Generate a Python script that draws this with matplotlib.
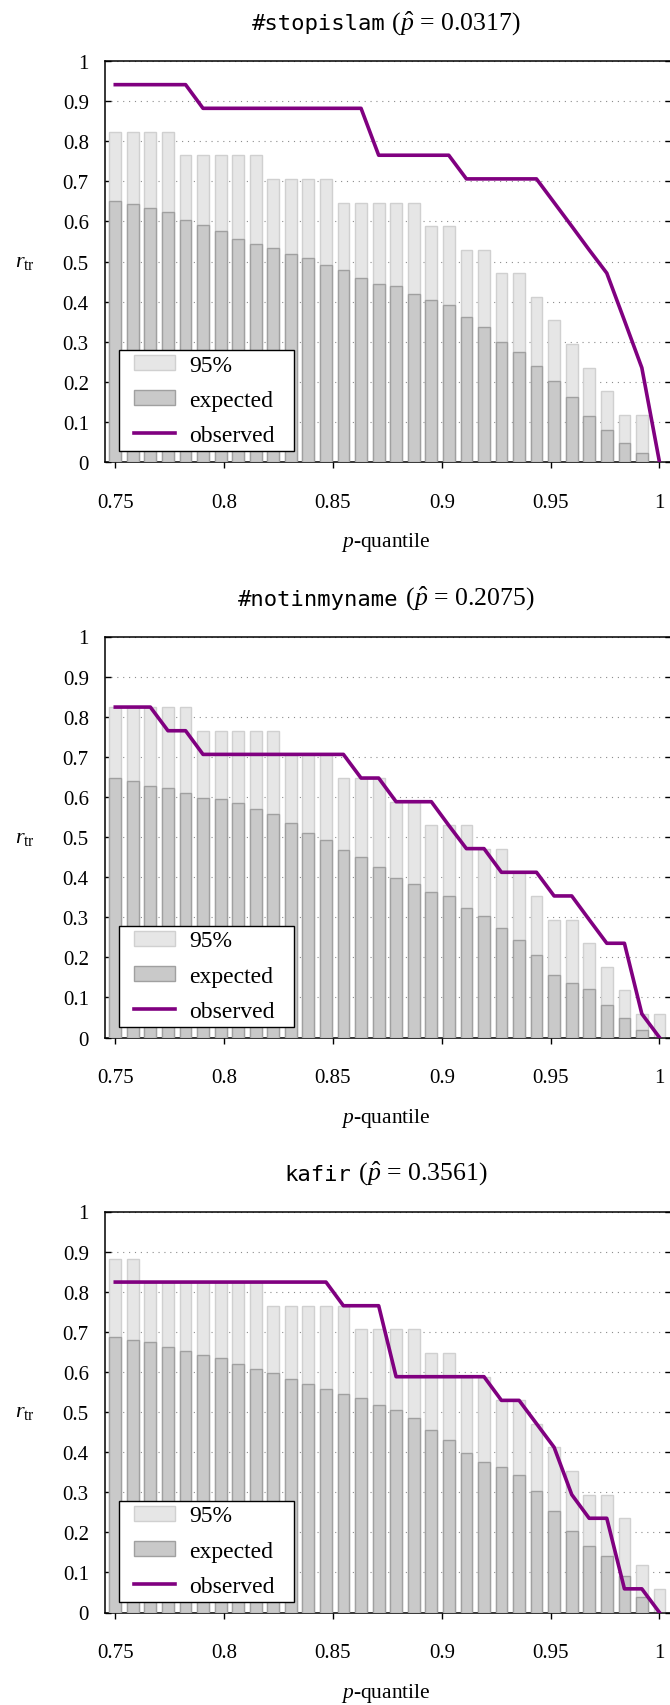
import matplotlib
matplotlib.use('Agg')
import matplotlib.pyplot as plt
from matplotlib import legend_handler
from matplotlib.container import BarContainer
from matplotlib.lines import Line2D

plt.rcParams['font.family'] = ['Liberation Serif', 'DejaVu Serif']
plt.rcParams['mathtext.fontset'] = 'custom'
plt.rcParams['mathtext.rm'] = 'Liberation Serif'
plt.rcParams['mathtext.it'] = 'Liberation Serif:italic'
plt.rcParams['mathtext.bf'] = 'Liberation Serif:bold'

# p-quantile of each bar
quantiles = [0.7500, 0.7581, 0.7661, 0.7742, 0.7823, 0.7903, 0.7984, 0.8065,
             0.8145, 0.8226, 0.8306, 0.8387, 0.8468, 0.8548, 0.8629, 0.8710,
             0.8790, 0.8871, 0.8952, 0.9032, 0.9113, 0.9194, 0.9274, 0.9355,
             0.9435, 0.9516, 0.9597, 0.9677, 0.9758, 0.9839, 0.9919, 1.0000]

xtick_values = [0.75, 0.8, 0.85, 0.9, 0.95, 1.0]
xtick_labels = ['0.75', '0.8', '0.85', '0.9', '0.95', '1']
ytick_values = [0, 0.1, 0.2, 0.3, 0.4, 0.5, 0.6, 0.7, 0.8, 0.9, 1.0]
ytick_labels = ['0', '0.1', '0.2', '0.3', '0.4', '0.5', '0.6', '0.7', '0.8', '0.9', '1']

tags = ['#stopislam', '#notinmyname', 'kafir']
p_hats = ['0.0317', '0.2075', '0.3561']

stopislam_upper = [0.824, 0.824, 0.824, 0.824, 0.765, 0.765, 0.765, 0.765,
                   0.765, 0.706, 0.706, 0.706, 0.706, 0.647, 0.647, 0.647,
                   0.647, 0.647, 0.588, 0.588, 0.529, 0.529, 0.471, 0.471,
                   0.412, 0.353, 0.294, 0.235, 0.176, 0.118, 0.118, 0.0]
stopislam_expected = [0.651, 0.643, 0.633, 0.623, 0.603, 0.591, 0.576, 0.555,
                      0.543, 0.533, 0.519, 0.508, 0.491, 0.478, 0.460, 0.444,
                      0.438, 0.420, 0.404, 0.391, 0.361, 0.336, 0.300, 0.274,
                      0.239, 0.201, 0.162, 0.115, 0.081, 0.048, 0.022, 0.0]
stopislam_observed = [0.941, 0.941, 0.941, 0.941, 0.941, 0.882, 0.882, 0.882,
                      0.882, 0.882, 0.882, 0.882, 0.882, 0.882, 0.882, 0.765,
                      0.765, 0.765, 0.765, 0.765, 0.706, 0.706, 0.706, 0.706,
                      0.706, 0.647, 0.588, 0.529, 0.471, 0.353, 0.235, 0.0]

notinmyname_upper = [0.824, 0.824, 0.824, 0.824, 0.824, 0.765, 0.765, 0.765,
                     0.765, 0.765, 0.706, 0.706, 0.706, 0.647, 0.647, 0.647,
                     0.588, 0.588, 0.529, 0.529, 0.529, 0.471, 0.471, 0.412,
                     0.353, 0.294, 0.294, 0.235, 0.176, 0.118, 0.059, 0.059]
notinmyname_expected = [0.647, 0.640, 0.628, 0.622, 0.609, 0.598, 0.594, 0.586,
                        0.571, 0.557, 0.536, 0.511, 0.492, 0.467, 0.451, 0.424,
                        0.398, 0.383, 0.363, 0.353, 0.324, 0.302, 0.274, 0.242,
                        0.205, 0.155, 0.137, 0.120, 0.081, 0.049, 0.018, 0.0]
notinmyname_observed = [0.824, 0.824, 0.824, 0.765, 0.765, 0.706, 0.706, 0.706,
                        0.706, 0.706, 0.706, 0.706, 0.706, 0.706, 0.647, 0.647,
                        0.588, 0.588, 0.588, 0.529, 0.471, 0.471, 0.412, 0.412,
                        0.412, 0.353, 0.353, 0.294, 0.235, 0.235, 0.059, 0.0]

kafir_upper = [0.882, 0.882, 0.824, 0.824, 0.824, 0.824, 0.824, 0.824,
               0.824, 0.765, 0.765, 0.765, 0.765, 0.765, 0.706, 0.706,
               0.706, 0.706, 0.647, 0.647, 0.588, 0.588, 0.529, 0.529,
               0.471, 0.412, 0.353, 0.294, 0.294, 0.235, 0.118, 0.059]
kafir_expected = [0.688, 0.679, 0.674, 0.663, 0.653, 0.643, 0.634, 0.620,
                  0.608, 0.598, 0.583, 0.570, 0.557, 0.545, 0.536, 0.518,
                  0.506, 0.485, 0.454, 0.431, 0.398, 0.375, 0.362, 0.342,
                  0.303, 0.254, 0.203, 0.165, 0.140, 0.091, 0.038, 0.0]
kafir_observed = [0.824, 0.824, 0.824, 0.824, 0.824, 0.824, 0.824, 0.824,
                  0.824, 0.824, 0.824, 0.824, 0.824, 0.765, 0.765, 0.765,
                  0.588, 0.588, 0.588, 0.588, 0.588, 0.588, 0.529, 0.529,
                  0.471, 0.412, 0.294, 0.235, 0.235, 0.059, 0.059, 0.0]

# layout in pixels (figure is 670 x 1706 at dpi 100)
W, H = 670, 1706
AX_LEFT, AX_RIGHT = 105.5, 671.0
AX_HEIGHT = 401
PANEL_TOPS = [62, 637.5, 1212.5]
TITLE_CENTER = 386
BAR_WIDTH = 0.0054
PURPLE = '#800080'

# legend keys sit a little in from the left edge of the box
KEY_HANDLERS = {
    BarContainer: legend_handler.HandlerPatch(update_func=legend_handler.update_from_first_child, xpad=0.44),
    Line2D: legend_handler.HandlerLine2D(xpad=0.44),
}


def draw_title(fig, top, tag, p_hat):
    """
    Writes the title: the tag in a typewriter font, then the estimate in serif
    :param top: pixel row of the top of the axes
    """
    renderer = fig.canvas.get_renderer()
    y = (H - top + 31.5) / H
    t1 = fig.text(0, y, tag, family='DejaVu Sans Mono', fontsize=16, va='baseline')
    t2 = fig.text(0, y, r' ($\hat{p}$ = %s)' % p_hat, fontsize=18.5, va='baseline')
    w1 = t1.get_window_extent(renderer).width
    w2 = t2.get_window_extent(renderer).width
    x0 = TITLE_CENTER - (w1 + w2) / 2
    t1.set_x(x0 / W)
    t2.set_x((x0 + w1) / W)


def draw_panel(fig, top, tag, p_hat, upper, expected, observed):
    """
    Draws one panel with the 95% bars, expected bars and the observed line
    """
    bottom = H - top - AX_HEIGHT
    ax = fig.add_axes([AX_LEFT / W, bottom / H, (AX_RIGHT - AX_LEFT) / W, AX_HEIGHT / H])

    b_upper = ax.bar(quantiles, upper, width=BAR_WIDTH, color='#e6e6e6', edgecolor='#d0d0d0',
                     linewidth=1.0, label='95%', zorder=2)
    b_expected = ax.bar(quantiles, expected, width=BAR_WIDTH, color='#c9c9c9', edgecolor='#a0a0a0',
                        linewidth=1.0, label='expected', zorder=3)
    line, = ax.plot(quantiles, observed, color=PURPLE, linewidth=2.6, label='observed', zorder=4)

    ax.set_xlim(0.7455, 1.0053)
    ax.set_ylim(0, 1)
    ax.set_xticks(xtick_values)
    ax.set_xticklabels(xtick_labels)
    ax.set_yticks(ytick_values)
    ax.set_yticklabels(ytick_labels)
    ax.tick_params(axis='x', direction='out', length=4, width=1.0, pad=18, labelsize=15)
    ax.tick_params(axis='y', direction='in', length=4, width=1.0, pad=12, labelsize=15,
                   left=True, right=True)
    for s in ax.spines.values():
        s.set_linewidth(1.1)

    ax.grid(axis='y', color='#8c8c8c', linewidth=0.8, linestyle=(0, (1, 4.3)))
    ax.set_axisbelow(True)

    ax.set_xlabel(r'$p$-quantile', fontsize=15.5)
    ax.xaxis.set_label_coords(0.496, -0.170)
    ax.set_ylabel(r'$r_{\mathrm{tr}}$', fontsize=16, rotation=0, va='center', ha='center')
    ax.yaxis.set_label_coords(-0.143, 0.5)

    # legend box stretched to the width of the original key
    leg = ax.legend([b_upper, b_expected, line], ['95%', 'expected', 'observed'],
                    loc='lower left', bbox_to_anchor=(0.0244, 0.0274, 0.3095, 0.25),
                    mode='expand', borderaxespad=0, handler_map=KEY_HANDLERS,
                    fancybox=False, edgecolor='black', framealpha=1, fontsize=17,
                    handlelength=2.16, handleheight=0.6, handletextpad=0.6,
                    labelspacing=0.6, borderpad=0.2)
    leg.get_frame().set_linewidth(1.0)

    draw_title(fig, top, tag, p_hat)
    return ax


fig = plt.figure(figsize=(W / 100, H / 100), dpi=100)
draw_panel(fig, PANEL_TOPS[0], tags[0], p_hats[0], stopislam_upper, stopislam_expected, stopislam_observed)
draw_panel(fig, PANEL_TOPS[1], tags[1], p_hats[1], notinmyname_upper, notinmyname_expected, notinmyname_observed)
draw_panel(fig, PANEL_TOPS[2], tags[2], p_hats[2], kafir_upper, kafir_expected, kafir_observed)
fig.savefig('out.png', dpi=100)
